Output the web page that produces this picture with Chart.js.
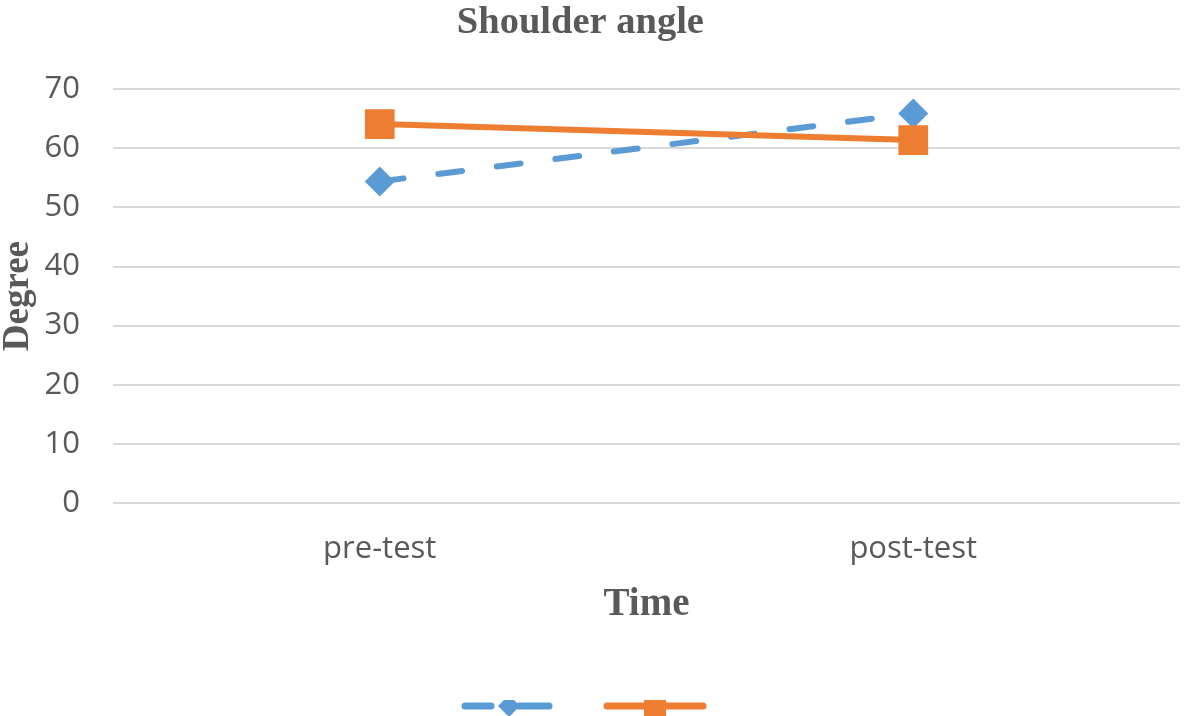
<!DOCTYPE html>
<html>
<head>
<meta charset="utf-8">
<title>Shoulder angle</title>
<script src="https://cdn.jsdelivr.net/npm/chart.js@4/dist/chart.umd.min.js"></script>
<style>
  html, body { margin: 0; padding: 0; background: #fff; overflow: hidden; }
  #wrap { width: 1184px; height: 716px; position: relative; }
</style>
</head>
<body>
<div id="wrap"><canvas id="shoulderChart"></canvas></div>
<script>
// Chart data
const categories = ['pre-test', 'post-test'];
const seriesA = [54.4, 65.9];   // blue, dashed, diamonds
const seriesB = [64.1, 61.4];   // orange, solid, squares
const yTicks = [0, 10, 20, 30, 40, 50, 60, 70];

const blue = '#5B9BD5';
const orange = '#ED7D31';
const grey = '#595959';
const serif = '"Liberation Serif", "Times New Roman", serif';

// Small canvases used as legend symbols (line + marker, no text).
// The canvas is a bit wider than the symbol so it sits slightly left of centre.
function legendSymbol(color, dashed, marker) {
    const c = document.createElement('canvas');
    c.width = 114;
    c.height = 26;
    const g = c.getContext('2d');
    g.strokeStyle = color;
    g.fillStyle = color;
    g.lineWidth = 7;
    g.lineCap = 'round';
    const mid = 13;
    if (dashed) {
        g.beginPath(); g.moveTo(8, mid); g.lineTo(34, mid); g.stroke();
        g.beginPath(); g.moveTo(62, mid); g.lineTo(92, mid); g.stroke();
    } else {
        g.beginPath(); g.moveTo(4, mid); g.lineTo(100, mid); g.stroke();
    }
    g.beginPath();
    if (marker === 'diamond') {
        g.moveTo(52, mid - 11); g.lineTo(63, mid); g.lineTo(52, mid + 11); g.lineTo(41, mid);
    } else {
        g.rect(41, mid - 11, 22, 22);
    }
    g.fill();
    return c;
}
const symbolA = legendSymbol(blue, true, 'diamond');
const symbolB = legendSymbol(orange, false, 'square');

const ctx = document.getElementById('shoulderChart').getContext('2d');
new Chart(ctx, {
    type: 'line',
    data: {
        labels: categories,
        datasets: [{
            label: '',
            data: seriesA,
            borderColor: blue,
            backgroundColor: blue,
            borderWidth: 6,
            borderDash: [24, 35],
            borderCapStyle: 'round',
            pointStyle: 'rectRot',
            pointRadius: 15,
            pointBorderWidth: 0,
            pointBackgroundColor: blue,
            tension: 0,
            order: 1
        }, {
            label: '',
            data: seriesB,
            borderColor: orange,
            backgroundColor: orange,
            borderWidth: 6,
            borderCapStyle: 'round',
            pointStyle: 'rect',
            pointRadius: 21,
            pointBorderWidth: 0,
            pointBackgroundColor: orange,
            tension: 0,
            order: 0
        }]
    },
    options: {
        responsive: true,
        maintainAspectRatio: false,
        animation: false,
        layout: { autoPadding: false, padding: { left: 0, right: 4, top: 0, bottom: -6 } },
        plugins: {
            title: {
                display: true,
                // trailing spaces pull the centred title a little to the left, as in the original
                text: 'Shoulder angle\u00a0\u00a0',
                color: grey,
                font: { family: serif, size: 38.5, weight: 'bold' },
                padding: { top: 0, bottom: 43 }
            },
            legend: {
                position: 'bottom',
                labels: {
                    usePointStyle: true,
                    pointStyleWidth: 140,
                    padding: 0,
                    font: { size: 12 },
                    generateLabels: () => [
                        { text: '', pointStyle: symbolA, fillStyle: blue, strokeStyle: blue, lineWidth: 0, datasetIndex: 0 },
                        { text: '', pointStyle: symbolB, fillStyle: orange, strokeStyle: orange, lineWidth: 0, datasetIndex: 1 }
                    ]
                }
            },
            tooltip: { enabled: false }
        },
        scales: {
            x: {
                offset: true,
                grid: { display: false, drawTicks: false },
                border: { display: false },
                ticks: {
                    color: grey,
                    padding: 28,
                    font: { family: '"Open Sans", sans-serif', size: 31 }
                },
                title: {
                    display: true,
                    text: 'Time',
                    color: grey,
                    font: { family: serif, size: 39, weight: 'bold' },
                    padding: { top: 0, bottom: 72 }
                },
                afterFit: (scale) => {
                    scale.height = 197;
                    scale.paddingLeft = 0;
                    scale.paddingRight = 0;
                }
            },
            y: {
                min: 0,
                max: 70,
                afterBuildTicks: (scale) => { scale.ticks = yTicks.map(v => ({ value: v })); },
                grid: { color: '#d9d9d9', lineWidth: 2, drawTicks: false },
                border: { display: false },
                ticks: {
                    color: grey,
                    padding: 33,
                    font: { family: '"Open Sans", sans-serif', size: 31 }
                },
                title: {
                    display: true,
                    text: 'Degree',
                    color: grey,
                    font: { family: serif, size: 37, weight: 'bold', lineHeight: 1 },
                    padding: { top: 0, bottom: 0 }
                },
                afterFit: (scale) => { scale.width = 113; }
            }
        }
    }
});
</script>
</body>
</html>
